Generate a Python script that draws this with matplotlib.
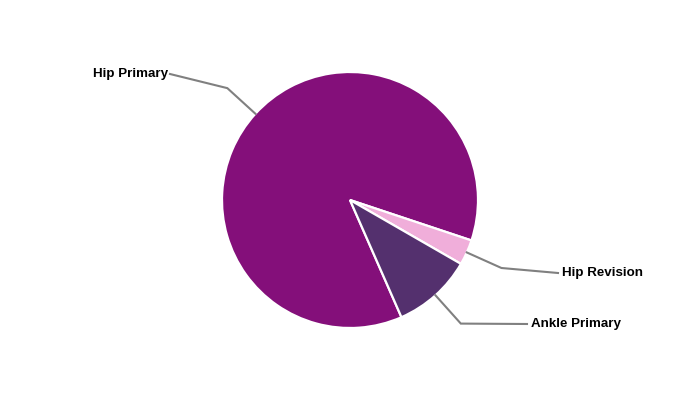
import numpy as np
import matplotlib
matplotlib.use("Agg")
import matplotlib.pyplot as plt

# data
categories = ["Hip Primary", "Hip Revision", "Ankle Primary"]
shares = [86.7, 3.2, 10.1]
colors = ["#840F7A", "#F0AEDA", "#54306E"]

# label placement (pixel coords, y from top) and alignment
label_pos = [(168, 74), (562, 273), (531, 324)]
label_ha = ["right", "left", "left"]

W, H = 700, 400
cx, cy, r = 350, 200, 128
start = -66.3

fig = plt.figure(figsize=(7, 4), dpi=100)
ax = fig.add_axes([0, 0, 1, 1])
wedges, _ = ax.pie(shares, colors=colors, startangle=start, counterclock=False,
                   center=(cx, H - cy), radius=r, frame=True,
                   wedgeprops=dict(edgecolor="white", linewidth=1.6))
ax.set_xlim(0, W)
ax.set_ylim(0, H)
ax.set_aspect("equal")
ax.axis("off")

# connectors: edge -> elbow (radial) -> label
for w, name, (lx, ly), ha in zip(wedges, categories, label_pos, label_ha):
    mid = np.deg2rad((w.theta1 + w.theta2) / 2)
    x0, y0 = cx + r * np.cos(mid), (H - cy) + r * np.sin(mid)
    x1, y1 = cx + 166 * np.cos(mid), (H - cy) + 166 * np.sin(mid)
    x2 = lx + (2 if ha == "right" else -4)
    ax.plot([x0, x1, x2], [y0, y1, H - ly], color="#808080", lw=1.5,
            solid_joinstyle="miter")
    ax.text(lx, H - ly, name, ha=ha, va="center", fontsize=9.6,
            fontweight="bold", family="Liberation Sans", color="black")

fig.savefig("out.png", dpi=100, facecolor="white")
